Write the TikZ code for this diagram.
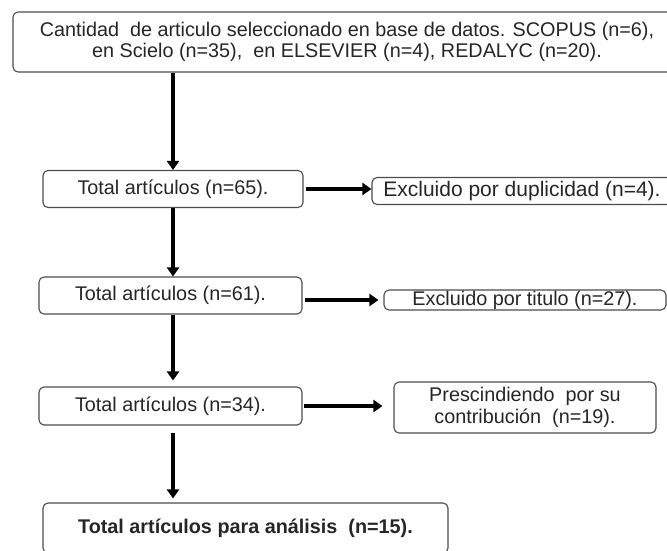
\documentclass[tikz,border=0pt]{standalone}
\usepackage{fontspec}
\setmainfont{Liberation Sans}
\usetikzlibrary{arrows.meta}
\tikzset{
	box/.style={draw=black!70, line width=1.1pt, rounded corners=5pt, inner sep=0pt, align=center, fill=white, text=black!85},
	flow/.style={line width=3.2pt, -{Triangle[length=9pt, width=12pt]}}
}

\begin{document}
\begin{tikzpicture}[x=1pt, y=-1pt, font=\fontsize{19.8}{21.5}\selectfont]
	\useasboundingbox (0, 0) rectangle (667, 550);
	% Boxes:
	\node[box, minimum width=668, minimum height=60] (Src) at (347, 42) {Cantidad\ \ de articulo seleccionado en base de datos. SCOPUS (n=6),\\en Scielo (n=35),\ \ en ELSEVIER (n=4), REDALYC (n=20).};
	\node[box, minimum width=260, minimum height=37] (T65) at (173, 189) {Total artículos (n=65).};
	\node[box, minimum width=300, minimum height=27, font=\fontsize{21}{24}\selectfont] (Dup) at (522, 191) {Excluido por duplicidad (n=4).};
	\node[box, minimum width=263, minimum height=37] (T61) at (170.5, 295.5) {Total artículos (n=61).};
	\node[box, minimum width=282, minimum height=20] (Tit) at (525, 300) {Excluido por titulo (n=27).};
	\node[box, minimum width=263, minimum height=38] (T34) at (170.5, 406) {Total artículos (n=34).};
	\node[box, minimum width=262, minimum height=51] (Pre) at (525, 407.5) {Prescindiendo\ \ por su\\contribución\ \ (n=19).};
	\node[box, minimum width=405, minimum height=50, font=\fontsize{19.8}{22}\selectfont\bfseries] (Fin) at (245.5, 528) {Total artículos para análisis\ \ (n=15).};
	% Arrows:
	\draw[flow] (Src.south -| T65.north) -- (T65.north);
	\draw[flow] (T65.south) -- (T65.south |- T61.north);
	\draw[flow, shorten >=6pt] (T61.south -| T65.south) -- (T34.north -| T65.south);
	\draw[flow, shorten <=7pt, shorten >=4pt] (T34.south -| T65.south) -- (Fin.north -| T65.south);
	\draw[flow, shorten <=2pt] (T65.east) -- (T65.east -| Dup.west);
	\draw[flow, shorten <=2pt, shorten >=5pt] (T61.east |- Tit.west) -- (Tit.west);
	\draw[flow, shorten <=1pt, shorten >=11pt] (T34.east) -- (T34.east -| Pre.west);
\end{tikzpicture}
\end{document}
